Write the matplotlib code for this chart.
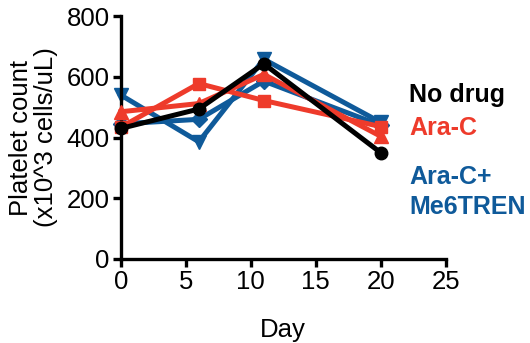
import matplotlib
matplotlib.use('Agg')
import matplotlib.pyplot as plt

plt.rcParams['font.family'] = ['Liberation Sans', 'DejaVu Sans']

# data
days = [0, 6, 11, 20]
no_drug = [430, 494, 643, 350]
arac_sq = [434, 578, 522, 436]
arac_tri = [485, 512, 608, 404]
combo_tri = [540, 386, 658, 450]
combo_dia = [445, 460, 586, 440]

labels = ['No drug', 'Ara-C', 'Ara-C+\nMe6TREN']
black = '#000000'
red = '#EE3B2B'
blue = '#0F5A9A'

fig = plt.figure(figsize=(5.3, 3.43), dpi=100)
ax = fig.add_axes([0.228, 0.245, 0.613, 0.708])

lw = 3.6
ax.plot(days, combo_dia, color=blue, lw=lw, marker='D', ms=8, clip_on=False, zorder=2)
ax.plot(days, combo_tri, color=blue, lw=lw, marker='v', ms=10, clip_on=False, zorder=2)
ax.plot(days, arac_tri, color=red, lw=lw, marker='^', ms=10, clip_on=False, zorder=3)
ax.plot(days, arac_sq, color=red, lw=lw, marker='s', ms=9, clip_on=False, zorder=3)
ax.plot(days, no_drug, color=black, lw=lw, marker='o', ms=9, clip_on=False, zorder=4)

ax.set_xlim(0, 25)
ax.set_ylim(0, 800)
ax.set_xticks([0, 5, 10, 15, 20, 25])
ax.set_yticks([0, 200, 400, 600, 800])
for s in ['top', 'right']:
    ax.spines[s].set_visible(False)
for s in ['left', 'bottom']:
    ax.spines[s].set_linewidth(2.4)
ax.tick_params(width=2.4, length=6, labelsize=18.5, pad=2)

ax.set_xlabel('Day', fontsize=18.5, labelpad=17)
ax.set_ylabel('Platelet count\n(x10^3 cells/uL)', fontsize=18.5, labelpad=6, linespacing=1.05)

# text-only legend
fig.text(0.772, 0.723, labels[0], color=black, fontsize=18, fontweight='bold', va='center')
fig.text(0.772, 0.627, labels[1], color=red, fontsize=18, fontweight='bold', va='center')
fig.text(0.772, 0.44, labels[2], color=blue, fontsize=18, fontweight='bold', va='center',
         linespacing=1.3)

fig.savefig('out.png', dpi=100)
